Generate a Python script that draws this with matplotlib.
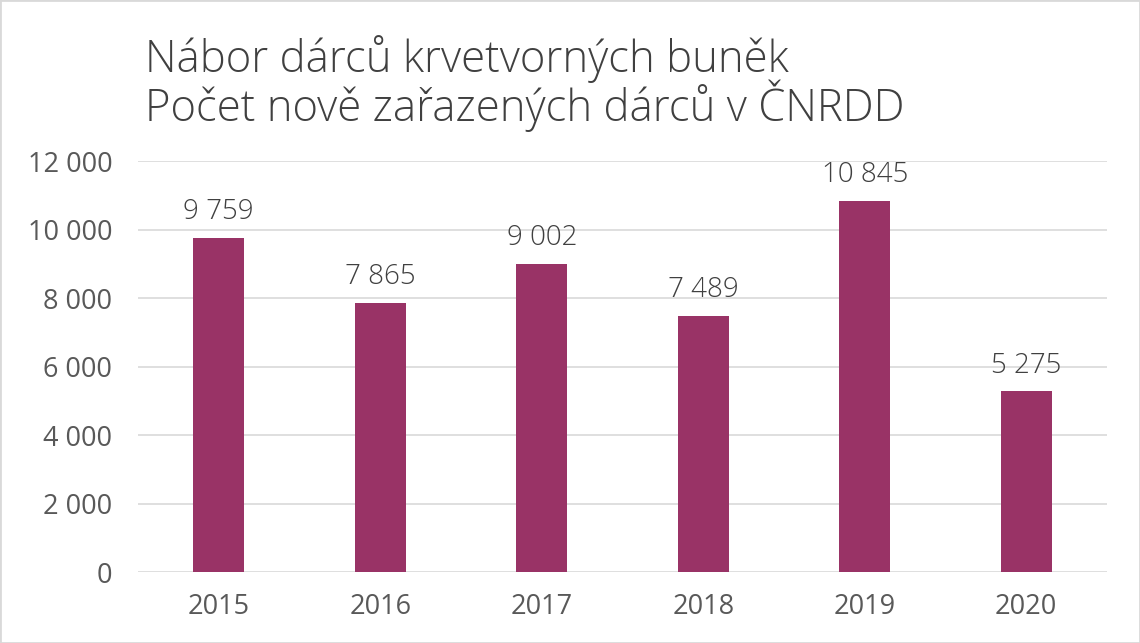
"""Nábor dárců krvetvorných buněk - bar chart recreation."""

import matplotlib
matplotlib.use("Agg")
import matplotlib.pyplot as plt
from matplotlib.patches import Rectangle

years = ["2015", "2016", "2017", "2018", "2019", "2020"]
donors = [9759, 7865, 9002, 7489, 10845, 5275]
y_ticks = [0, 2000, 4000, 6000, 8000, 10000, 12000]

BAR_COLOR = "#993366"
TEXT_COLOR = "#595959"
TITLE_COLOR = "#404040"


def fmt(v: int) -> str:
    return f"{v:,}".replace(",", " ")


plt.rcParams["font.family"] = ["Open Sans", "DejaVu Sans"]

fig = plt.figure(figsize=(11.4, 6.43), dpi=100)
fig.patches.append(Rectangle((0, 0), 1, 1, transform=fig.transFigure, fill=False,
                             edgecolor="#d9d9d9", linewidth=2))
ax = fig.add_axes([0.121, 0.1104, 0.850, 0.6392])

x = range(len(years))
ax.bar(x, donors, width=0.315, color=BAR_COLOR, zorder=3)
for xi, v in zip(x, donors):
    ax.text(xi, v + 330, fmt(v), ha="center", va="bottom", fontsize=20, color=TITLE_COLOR, fontweight="light")

ax.set_xlim(-0.5, len(years) - 0.5)
ax.set_ylim(0, 12000)
ax.set_yticks(y_ticks)
ax.set_yticklabels([fmt(t) for t in y_ticks])
ax.set_xticks(list(x))
ax.set_xticklabels(years)
ax.tick_params(axis="both", length=0, labelsize=19.5, labelcolor=TEXT_COLOR)
ax.tick_params(axis="y", pad=18.5)
ax.tick_params(axis="x", pad=15)
ax.grid(axis="y", color="#d9d9d9", linewidth=1.2, zorder=0)
for side in ["top", "right", "left", "bottom"]:
    ax.spines[side].set_visible(False)

fig.text(0.127, 0.908, "Nábor dárců krvetvorných buněk", fontsize=31.5, color=TITLE_COLOR,
         fontweight="light", va="center")
fig.text(0.127, 0.836, "Počet nově zařazených dárců v ČNRDD", fontsize=31.5, color=TITLE_COLOR,
         fontweight="light", va="center")

fig.savefig("out.png", dpi=100)
